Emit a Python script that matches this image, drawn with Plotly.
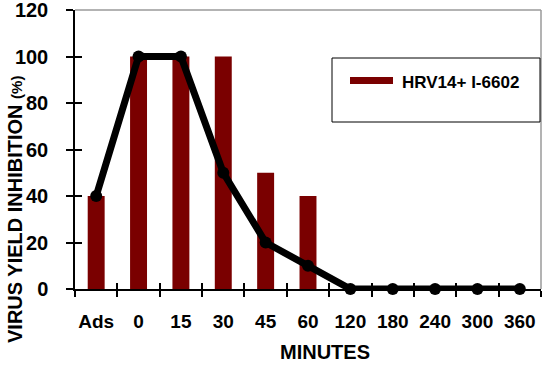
import plotly.graph_objects as go

categories = ["Ads", "0", "15", "30", "45", "60", "120", "180", "240", "300", "360"]
bar_values = [40, 100, 100, 100, 50, 40, 0, 0, 0, 0, 0]
line_values = [40, 100, 100, 50, 20, 10, 0, 0, 0, 0, 0]
series_name = "HRV14+ I-6602"
y_ticks = [0, 20, 40, 60, 80, 100, 120]
x_title = "MINUTES"
y_title = "VIRUS YIELD INHIBITION"

FONT = "Liberation Sans, Arial, sans-serif"
BAR_COLOR = "#7a0000"
n = len(categories)

fig = go.Figure()
fig.add_trace(go.Bar(x=categories, y=bar_values, name=series_name,
                     marker=dict(color=BAR_COLOR, line=dict(width=0)),
                     width=0.40, showlegend=False))
fig.add_trace(go.Scatter(x=categories, y=line_values, mode="lines+markers",
                         line=dict(color="black", width=7),
                         marker=dict(color="black", size=12),
                         cliponaxis=False, showlegend=False))
# overlay axes only for the inside half of the crossing tick marks
fig.add_trace(go.Scatter(x=[0], y=[0], xaxis="x2", yaxis="y2", mode="markers",
                         marker=dict(opacity=0), showlegend=False, hoverinfo="skip"))

W, H = 550, 368
L, R, T, B = 75, 9, 10, 79

fig.update_layout(
    width=W, height=H,
    margin=dict(l=L, r=R, t=T, b=B, autoexpand=False),
    paper_bgcolor="white", plot_bgcolor="white",
    font=dict(family=FONT, color="black"),
    xaxis=dict(type="category", categoryorder="array", categoryarray=categories,
               range=[-0.5, n - 0.5],
               showline=True, linecolor="black", linewidth=1.5,
               ticks="outside", ticklen=6, tickwidth=1.5, tickcolor="black",
               tickson="boundaries", showgrid=False, zeroline=False,
               tickangle=0, automargin=False, ticklabeloverflow="allow",
               tickfont=dict(family=FONT, size=19, color="black", weight="bold"),
               ticklabelstandoff=14),
    yaxis=dict(range=[0, 120], tickvals=y_ticks, automargin=False,
               ticklabeloverflow="allow",
               showline=True, linecolor="black", linewidth=1.5,
               ticks="outside", ticklen=7, tickwidth=1.5, tickcolor="black",
               showgrid=False, zeroline=False,
               tickfont=dict(family=FONT, size=20, color="black", weight="bold"),
               ticklabelstandoff=14),
    xaxis2=dict(overlaying="x", type="linear", range=[-0.5, n - 0.5],
                tickvals=[i - 0.5 for i in range(n + 1)],
                ticks="inside", ticklen=6, tickwidth=1.5, automargin=False,
                tickcolor="black", showticklabels=False, showgrid=False,
                zeroline=False, showline=False, anchor="y2", side="bottom"),
    yaxis2=dict(overlaying="y", range=[0, 120], tickvals=y_ticks, automargin=False,
                ticks="inside", ticklen=7, tickwidth=1.5, tickcolor="black",
                showticklabels=False, showgrid=False, zeroline=False,
                showline=False, anchor="x2", side="left"),
)

# gray frame on top and right
fig.add_shape(type="line", xref="paper", yref="paper", x0=0, x1=1, y0=1, y1=1,
              line=dict(color="#9a9a9a", width=1.5))
fig.add_shape(type="line", xref="paper", yref="paper", x0=1, x1=1, y0=0, y1=1,
              line=dict(color="#9a9a9a", width=1.5))

pw, ph = W - L - R, H - T - B
def px(x): return (x - L) / pw
def py(y): return (H - B - y) / ph

# legend box
fig.add_shape(type="rect", xref="paper", yref="paper",
              x0=px(332), x1=px(540), y0=py(122), y1=py(58),
              line=dict(color="black", width=1), fillcolor="white")
fig.add_shape(type="rect", xref="paper", yref="paper",
              x0=px(350), x1=px(393), y0=py(84), y1=py(77),
              line=dict(width=0), fillcolor=BAR_COLOR)
fig.add_annotation(xref="paper", yref="paper", x=px(400), y=py(82),
                   xanchor="left", yanchor="middle", showarrow=False,
                   text=series_name,
                   font=dict(family=FONT, size=17, color="black", weight="bold"))

# axis titles
fig.add_annotation(xref="paper", yref="paper", x=px(325), y=py(352),
                   xanchor="center", yanchor="middle", showarrow=False,
                   text=x_title,
                   font=dict(family=FONT, size=20, color="black", weight="bold"))
fig.add_annotation(xref="paper", yref="paper", x=px(15), y=py(210),
                   xanchor="center", yanchor="middle", showarrow=False,
                   textangle=-90,
                   text=y_title + " <span style='font-size:15px'>(%)</span>",
                   font=dict(family=FONT, size=20, color="black", weight="bold"))

fig.write_html("out.html", config={"displayModeBar": False},
               post_script="document.body.style.margin='0';document.body.style.overflow='hidden';")
